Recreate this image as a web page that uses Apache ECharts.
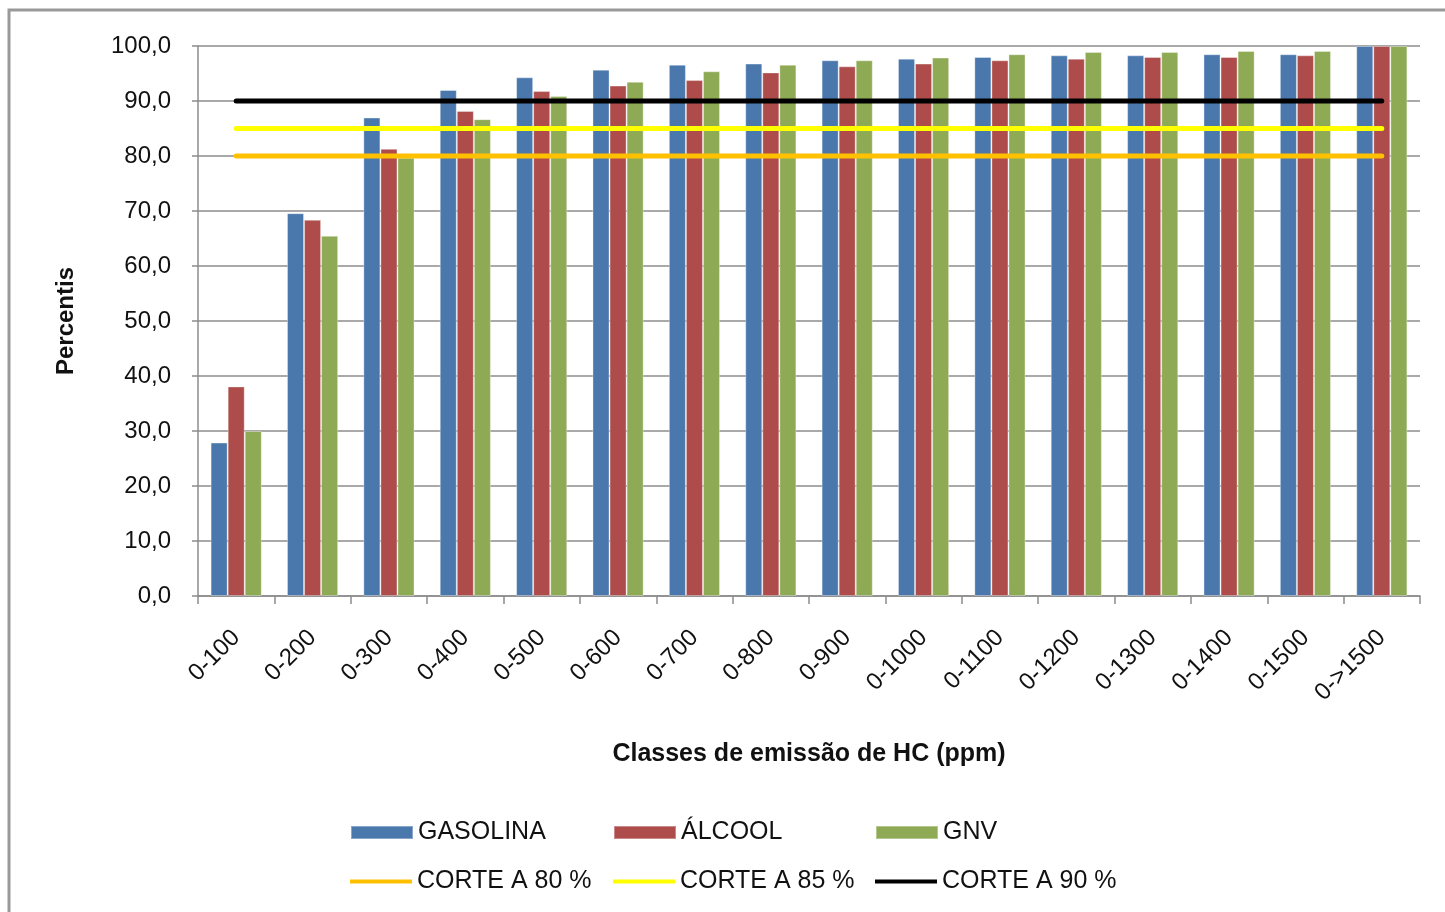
<!DOCTYPE html>
<html>
<head>
<meta charset="utf-8">
<script src="https://cdn.jsdelivr.net/npm/echarts@6/dist/echarts.min.js"></script>
<style>
  html, body { margin: 0; padding: 0; background: #fff; }
  #chart_box { width: 1445px; height: 912px; }
</style>
</head>
<body>
<div id="chart_box"></div>
<script>
// classes de emissao
var categorias = ['0-100', '0-200', '0-300', '0-400', '0-500', '0-600', '0-700', '0-800',
  '0-900', '0-1000', '0-1100', '0-1200', '0-1300', '0-1400', '0-1500', '0->1500']

var gasolina = [27.9, 69.6, 87.0, 92.0, 94.3, 95.7, 96.6, 96.8, 97.4, 97.7, 98.0, 98.3, 98.3, 98.5, 98.5, 100.0]
var alcool = [38.1, 68.4, 81.3, 88.2, 91.8, 92.8, 93.8, 95.2, 96.3, 96.8, 97.4, 97.7, 98.0, 98.0, 98.3, 100.0]
var gnv = [30.0, 65.5, 79.7, 86.7, 90.9, 93.5, 95.4, 96.6, 97.4, 97.9, 98.5, 98.9, 98.9, 99.1, 99.1, 100.0]

// linhas de corte (um valor por classe)
var corte80 = [80, 80, 80, 80, 80, 80, 80, 80, 80, 80, 80, 80, 80, 80, 80, 80]
var corte85 = [85, 85, 85, 85, 85, 85, 85, 85, 85, 85, 85, 85, 85, 85, 85, 85]
var corte90 = [90, 90, 90, 90, 90, 90, 90, 90, 90, 90, 90, 90, 90, 90, 90, 90]

var fonte = '"Liberation Sans", Arial, sans-serif'
var cinza = '#8c8c8c'

var myChart = echarts.init(document.getElementById('chart_box'))

function barra(nome, dados, cor) {
  return {
    name: nome,
    type: 'bar',
    data: dados,
    barGap: '0%',
    barCategoryGap: '33%',
    itemStyle: { color: cor, borderColor: 'rgba(255,255,255,0.35)', borderWidth: 1 },
    z: 2
  }
}

function corte(nome, dados, cor) {
  return {
    name: nome,
    type: 'line',
    data: dados,
    symbol: 'none',
    lineStyle: { color: cor, width: 5, cap: 'round' },
    itemStyle: { color: cor },
    z: 5
  }
}

// uma legenda por item para posicionar como no original
function legenda(nome, x, y, alturaIcone) {
  return {
    data: [nome],
    left: x,
    top: y,
    padding: 0,
    itemWidth: 62,
    itemHeight: alturaIcone,
    icon: 'rect',
    textStyle: { fontSize: 25, color: '#111', fontFamily: fonte, padding: [0, 0, 0, 0] },
    selectedMode: false
  }
}

var option = {
  animation: false,
  backgroundColor: '#fff',
  textStyle: { fontFamily: fonte },
  graphic: [
    {
      type: 'rect',
      shape: { x: 9, y: 10, width: 1500, height: 1000 },
      style: { fill: 'none', stroke: '#999', lineWidth: 3 },
      silent: true
    }
  ],
  legend: [
    legenda('GASOLINA', 350, 820, 13),
    legenda('ÁLCOOL', 613, 820, 13),
    legenda('GNV', 875, 820, 13),
    legenda('CORTE A 80 %', 350, 869, 4),
    legenda('CORTE A 85 %', 613, 869, 4),
    legenda('CORTE A 90 %', 875, 869, 4)
  ],
  grid: {
    left: 198,
    right: 25,
    top: 46,
    bottom: 316
  },
  xAxis: {
    type: 'category',
    data: categorias,
    name: 'Classes de emissão de HC (ppm)',
    nameLocation: 'middle',
    nameGap: 146,
    nameTextStyle: { fontSize: 25, fontWeight: 'bold', color: '#111', fontFamily: fonte },
    axisLine: { lineStyle: { color: cinza, width: 1.5 } },
    axisTick: { show: true, interval: 0, length: 8, lineStyle: { color: cinza, width: 1.5 } },
    axisLabel: {
      interval: 0,
      rotate: 45,
      margin: 38,
      fontSize: 24,
      color: '#111',
      fontFamily: fonte
    }
  },
  yAxis: {
    type: 'value',
    min: 0,
    max: 100,
    interval: 10,
    name: 'Percentis',
    nameLocation: 'middle',
    nameGap: 120,
    nameTextStyle: { fontSize: 24, fontWeight: 'bold', color: '#111', fontFamily: fonte },
    axisLine: { show: true, lineStyle: { color: cinza, width: 1.5 } },
    axisTick: { show: true, length: 6, lineStyle: { color: cinza, width: 1.5 } },
    axisLabel: {
      margin: 27,
      fontSize: 24,
      color: '#111',
      fontFamily: fonte,
      formatter: function (v) { return v.toFixed(1).replace('.', ',') }
    },
    splitLine: { lineStyle: { color: cinza, width: 1.5 } }
  },
  series: [
    barra('GASOLINA', gasolina, '#4a78ad'),
    barra('ÁLCOOL', alcool, '#ad4c4a'),
    barra('GNV', gnv, '#8eaa55'),
    corte('CORTE A 80 %', corte80, '#ffc000'),
    corte('CORTE A 85 %', corte85, '#ffff00'),
    corte('CORTE A 90 %', corte90, '#000000')
  ]
}

option && myChart.setOption(option)
</script>
</body>
</html>
